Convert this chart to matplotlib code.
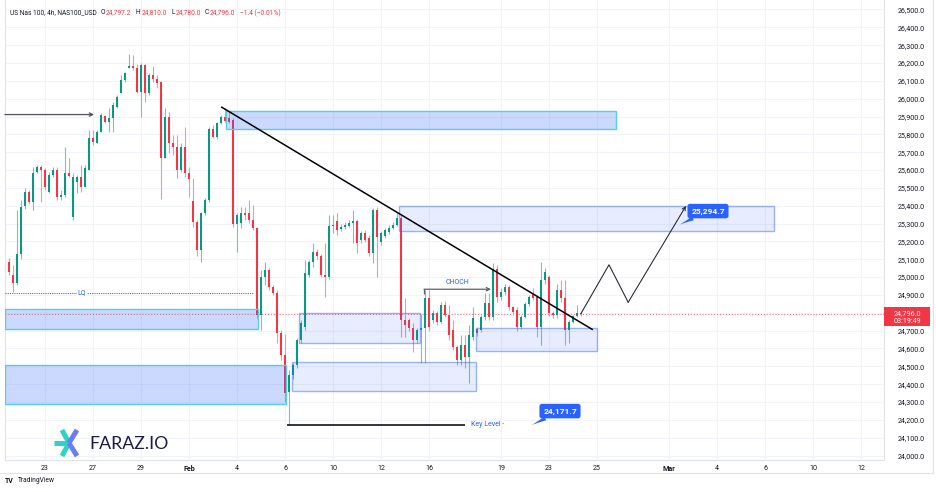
import numpy as np
import pandas as pd
import matplotlib
matplotlib.use('Agg')
import matplotlib.pyplot as plt
import matplotlib.transforms as mtransforms
from matplotlib.patches import Rectangle
from matplotlib.lines import Line2D


# --- 4h candles, NAS100_USD ---
OPENS = [25084, 25011, 24966, 25129, 25400, 25478, 25421, 25590, 25618, 25601,
         25478, 25573, 25601, 25449, 25461, 25584, 25337, 25534, 25562, 25506,
         25601, 25781, 25753, 25815, 25904, 25871, 25893, 25955, 26034, 26107,
         26174, 26185, 26174, 26039, 26191, 26034, 26135, 26113, 26096, 25669,
         25899, 25753, 25730, 25601, 25730, 25584, 25427, 25309, 25152, 25360,
         25433, 25831, 25787, 25865, 25899, 25893, 25882, 25298, 25303, 25360,
         25360, 25320, 25275, 24787, 25000, 25039, 24944, 24910, 24685, 24562,
         24354, 24449, 24506, 24646, 24719, 25011, 25084, 25140, 25118, 25011,
         25000, 25286, 25315, 25270, 25281, 25286, 25303, 25315, 25208, 25247,
         25219, 25135, 25376, 25197, 25230, 25253, 25275, 25292, 25331, 24758,
         24758, 24713, 24646, 24702, 24713, 24882, 24758, 24798, 24747, 24843,
         24787, 24702, 24607, 24534, 24618, 24551, 24663, 24708, 24702, 24775,
         24854, 24775, 25045, 24888, 24916, 24944, 24831, 24815, 24719, 24775,
         24848, 24904, 24888, 24719, 24983, 25000, 24798, 24787, 24927, 24882,
         24702, 24747, 24781, 24797.2]
HIGHS = [25107, 25067, 25376, 25433, 25500, 25489, 25618, 25629, 25629, 25612,
         25590, 25618, 25618, 25489, 25730, 25669, 25584, 25573, 25629, 25629,
         25826, 25826, 25826, 25921, 25910, 25949, 25983, 26022, 26135, 26152,
         26253, 26247, 26196, 26202, 26196, 26146, 26185, 26135, 26100, 25949,
         25927, 25798, 25798, 25753, 25843, 25618, 25556, 25320, 25365, 25444,
         25843, 25854, 25871, 25910, 25949, 25927, 25893, 25360, 25393, 25393,
         25433, 25404, 25281, 25039, 25084, 25051, 24955, 24927, 24702, 24680,
         24478, 24520, 24660, 24758, 25096, 25096, 25191, 25160, 25129, 25191,
         25348, 25348, 25360, 25300, 25310, 25320, 25376, 25326, 25260, 25264,
         25236, 25388, 25393, 25260, 25275, 25290, 25310, 25360, 25348, 24882,
         24770, 24742, 24713, 24792, 24927, 24927, 24815, 24810, 24860, 24865,
         24843, 24758, 24618, 24674, 24674, 24730, 24831, 24720, 24790, 24910,
         24910, 25079, 25067, 24940, 24960, 24955, 24840, 24830, 24790, 24860,
         24900, 24938, 24900, 25084, 25050, 25010, 24810, 24960, 24983, 24983,
         24760, 24790, 24843, 24810]
LOWS = [25011, 24916, 24955, 25100, 25380, 25410, 25376, 25585, 25421, 25489,
        25472, 25562, 25433, 25433, 25449, 25562, 25320, 25472, 25478, 25506,
        25601, 25742, 25753, 25815, 25865, 25815, 25815, 25949, 26034, 26096,
        26174, 26163, 26034, 25899, 25983, 26022, 26096, 26062, 25438, 25669,
        25697, 25685, 25556, 25590, 25562, 25449, 25281, 25118, 25084, 25348,
        25421, 25781, 25775, 25860, 25871, 25865, 25281, 25140, 25275, 25320,
        25303, 25264, 24770, 24702, 24955, 24930, 24899, 24629, 24534, 24298,
        24171.7, 24430, 24490, 24630, 24702, 25000, 25056, 25100, 25000, 24888,
        24990, 25247, 25236, 25260, 25270, 25280, 25191, 25135, 25190, 25197,
        25120, 25079, 25000, 25180, 25220, 25240, 25270, 25285, 24663, 24663,
        24700, 24579, 24630, 24517, 24517, 24700, 24740, 24730, 24740, 24775,
        24646, 24590, 24506, 24506, 24489, 24404, 24646, 24670, 24690, 24760,
        24760, 24758, 24860, 24870, 24900, 24815, 24790, 24700, 24710, 24770,
        24840, 24870, 24663, 24618, 24960, 24780, 24770, 24770, 24860, 24618,
        24630, 24740, 24775, 24780]
CLOSES = [25028, 24966, 25129, 25393, 25478, 25421, 25584, 25618, 25601, 25506,
          25573, 25601, 25449, 25461, 25584, 25568, 25562, 25562, 25506, 25612,
          25781, 25758, 25815, 25910, 25871, 25893, 25966, 26011, 26107, 26146,
          26185, 26174, 26039, 26191, 26034, 26135, 26113, 26090, 25669, 25899,
          25753, 25730, 25601, 25730, 25584, 25551, 25309, 25152, 25360, 25433,
          25831, 25787, 25865, 25899, 25876, 25871, 25298, 25348, 25360, 25348,
          25320, 25275, 24787, 25000, 25039, 24944, 24910, 24685, 24562, 24348,
          24449, 24506, 24646, 24742, 25022, 25084, 25140, 25118, 25011, 25000,
          25286, 25292, 25264, 25281, 25292, 25303, 25315, 25191, 25247, 25208,
          25135, 25376, 25225, 25247, 25264, 25275, 25292, 25331, 24758, 24730,
          24713, 24646, 24702, 24713, 24882, 24719, 24798, 24747, 24843, 24787,
          24674, 24607, 24534, 24618, 24551, 24674, 24770, 24685, 24775, 24854,
          24775, 25045, 24888, 24916, 24944, 24831, 24803, 24719, 24775, 24848,
          24888, 24882, 24719, 24983, 25028, 24798, 24787, 24927, 24882, 24702,
          24747, 24781, 24798, 24796.0]

# calendar: trading days shown on the time axis, 6 four-hour bars per day
SESSION_START = '2026-01-21'
SESSION_END = '2026-03-13'
BARS_PER_DAY = 6
FIRST_CANDLE_BAR = 3
TICK_DATES = ['2026-01-23', '2026-01-27', '2026-01-29', '2026-02-02', '2026-02-04',
              '2026-02-06', '2026-02-10', '2026-02-12', '2026-02-16', '2026-02-19',
              '2026-02-23', '2026-02-25', '2026-03-02', '2026-03-04', '2026-03-06',
              '2026-03-10', '2026-03-12']
TICK_LABELS = ['23', '27', '29', 'Feb', '4', '6', '10', '12', '16', '19',
               '23', '25', 'Mar', '4', '6', '10', '12']
MONTH_LABELS = ['Feb', 'Mar']

PRICE_TICKS = list(range(24000, 26501, 100))
PRICE_RANGE = (23975, 26553)
BAR_RANGE = (2.0, 221.75)

# drawings (bar index / price)
STRONG_ZONES = [(57.25, 154.75, 25830, 25931),
                (2.0, 65.25, 24709, 24821),
                (2.0, 72.25, 24289, 24507)]
LIGHT_ZONES = [(100.5, 194.25, 25258, 25399),
               (75.5, 105.75, 24631, 24799),
               (73.75, 119.75, 24362, 24524),
               (119.75, 150.0, 24586, 24715)]
TRENDLINE = [(56.2, 25952), (148.8, 24707)]
LEFT_ARROW = [(2.0, 25911), (24.25, 25911)]
LQ_LEVEL = 24912
LQ_SPAN = (2.0, 64.0)
CHOCH_LEVEL = 24932
CHOCH_SPAN = (106.75, 123.5)
KEY_LEVEL = 24171.7
KEY_SPAN = (72.5, 117.0)
PROJECTION = [(146.0, 24796), (153.0, 25069), (157.8, 24859), (172.25, 25399)]
TARGET = 25294.7

LAST_PRICE = 24796.0
COUNTDOWN = '03:19:49'

GREEN = '#089981'
RED = '#f23645'
BLUE = '#2962ff'
TEXT = '#131722'
W, H = 936, 492


def fx(px):
    return px / W


def fy(py):
    return 1 - py / H


def draw_candles(ax):
    o = np.array(OPENS, dtype=float)
    h = np.array(HIGHS, dtype=float)
    l = np.array(LOWS, dtype=float)
    c = np.array(CLOSES, dtype=float)
    x = FIRST_CANDLE_BAR + np.arange(len(o))
    up = c >= o
    body_col = np.where(up, GREEN, RED)
    wick_col = np.where(up, '#74c7b8', '#f7959e')
    ax.vlines(x, l, h, colors=wick_col, lw=0.8, zorder=3)
    ax.bar(x, np.maximum(np.abs(c - o), 5), bottom=np.minimum(o, c), width=0.7,
           color=body_col, linewidth=0, zorder=4)


def draw_drawings(ax):
    for x0, x1, lo, hi in STRONG_ZONES:
        ax.add_patch(Rectangle((x0, lo), x1 - x0, hi - lo, facecolor=(0.16, 0.38, 1, 0.24),
                               edgecolor='#55cfe3', lw=1.0, zorder=5))
    for x0, x1, lo, hi in LIGHT_ZONES:
        ax.add_patch(Rectangle((x0, lo), x1 - x0, hi - lo, facecolor=(0.16, 0.38, 1, 0.11),
                               edgecolor=(0.16, 0.38, 1, 0.45), lw=1.0, zorder=5))

    (tx0, ty0), (tx1, ty1) = TRENDLINE
    ax.plot([tx0, tx1], [ty0, ty1], color='black', lw=1.1, zorder=6)

    ax.annotate('', xy=LEFT_ARROW[1], xytext=LEFT_ARROW[0],
                arrowprops=dict(arrowstyle='->', color='#50535e', lw=0.9,
                                shrinkA=0, shrinkB=0, mutation_scale=6), zorder=6)

    ax.hlines(LQ_LEVEL, *LQ_SPAN, colors='#6a6d78', lw=0.8, linestyles=(0, (1, 1)), zorder=6)
    ax.text(21.25, LQ_LEVEL, 'LQ', color=BLUE, fontsize=5, ha='center', va='center', zorder=7,
            bbox=dict(boxstyle='square,pad=0.15', fc='white', ec='none'))

    ax.annotate('', xy=(CHOCH_SPAN[1], CHOCH_LEVEL), xytext=(CHOCH_SPAN[0], CHOCH_LEVEL),
                arrowprops=dict(arrowstyle='->', color='#5d606b', lw=0.9,
                                shrinkA=0, shrinkB=0, mutation_scale=6), zorder=6)
    ax.vlines(CHOCH_SPAN[0], CHOCH_LEVEL - 25, CHOCH_LEVEL, colors='#5d606b', lw=0.9, zorder=6)
    ax.text(sum(CHOCH_SPAN) / 2, CHOCH_LEVEL + 35, 'CHOCH', color=BLUE, fontsize=5,
            ha='center', va='center', zorder=7)

    ax.hlines(KEY_LEVEL, *KEY_SPAN, colors='black', lw=1.1, zorder=6)
    ax.text(KEY_SPAN[1] + 1.5, KEY_LEVEL, 'Key Level -', color=BLUE, fontsize=5,
            ha='left', va='center', zorder=7)

    px_ = [p[0] for p in PROJECTION]
    py_ = [p[1] for p in PROJECTION]
    ax.plot(px_[:-1], py_[:-1], color='#2a2e39', lw=0.8, zorder=6)
    ax.annotate('', xy=PROJECTION[-1], xytext=PROJECTION[-2],
                arrowprops=dict(arrowstyle='->', color='#2a2e39', lw=0.8,
                                shrinkA=0, shrinkB=0, mutation_scale=6), zorder=6)

    callout = dict(fontsize=6, fontweight='bold', color='white', ha='center', va='center',
                   zorder=8, textcoords='data',
                   bbox=dict(boxstyle='round,pad=0.45,rounding_size=0.3', fc=BLUE, ec='none'),
                   arrowprops=dict(arrowstyle='wedge,tail_width=0.5,shrink_factor=0.4',
                                   fc=BLUE, ec='none', shrinkA=0, shrinkB=0))
    ax.annotate(f'{KEY_LEVEL:,.1f}', xy=(133.75, KEY_LEVEL), xytext=(140.75, 24249), **callout)
    ax.annotate(f'{TARGET:,.1f}', xy=(170.75, TARGET), xytext=(177.75, 25370), **callout)

    ax.axhline(LAST_PRICE, color=RED, lw=0.7, ls=(0, (1, 2)), alpha=0.8, zorder=2)


def main():
    plt.rcParams['font.family'] = ['Roboto', 'DejaVu Sans']

    bdays = pd.bdate_range(SESSION_START, SESSION_END)
    tick_pos = [bdays.get_loc(pd.Timestamp(d)) * BARS_PER_DAY for d in TICK_DATES]

    fig = plt.figure(figsize=(W / 100, H / 100), dpi=100)
    ax = fig.add_axes([fx(5), fy(460), fx(884) - fx(5), fy(0) - fy(460)])
    ax.set_xlim(*BAR_RANGE)
    ax.set_ylim(*PRICE_RANGE)

    ax.set_yticks(PRICE_TICKS)
    ax.set_yticklabels([f'{p:,.1f}' if p != 24800 else '' for p in PRICE_TICKS])
    ax.yaxis.tick_right()
    ax.set_xticks(tick_pos)
    ax.set_xticklabels(TICK_LABELS)
    for lab in ax.get_xticklabels():
        if lab.get_text() in MONTH_LABELS:
            lab.set_fontweight('bold')
    ax.tick_params(axis='y', length=0, pad=10, labelsize=5.1, labelcolor=TEXT)
    ax.tick_params(axis='x', length=0, pad=3.5, labelsize=5.1, labelcolor=TEXT)
    ax.grid(True, color='#f0f3fa', lw=0.8, zorder=0)
    ax.set_axisbelow(True)
    ax.spines['top'].set_visible(False)
    for side in ['left', 'right', 'bottom']:
        ax.spines[side].set_color('#e0e3eb')
        ax.spines[side].set_linewidth(0.8)

    draw_candles(ax)
    draw_drawings(ax)

    # last price tag on the price scale
    trans = mtransforms.blended_transform_factory(ax.transAxes, ax.transData)
    ax.add_patch(Rectangle((1.0, LAST_PRICE - 72), 46 / 879, 108, transform=trans,
                           facecolor=RED, edgecolor='none', clip_on=False, zorder=9))
    ax.text(1 + 23 / 879, LAST_PRICE, f'{LAST_PRICE:,.1f}', transform=trans, color='white',
            fontsize=5.2, ha='center', va='center', clip_on=False, zorder=10)
    ax.text(1 + 23 / 879, LAST_PRICE - 42, COUNTDOWN, transform=trans, color='white',
            fontsize=5.2, ha='center', va='center', clip_on=False, zorder=10)

    # frame lines
    fig.add_artist(Line2D([fx(0), fx(933)], [fy(473), fy(473)], color='#e0e3eb', lw=0.8))
    fig.add_artist(Line2D([fx(933), fx(933)], [fy(0), fy(473)], color='#e0e3eb', lw=0.8))

    # legend line
    fig.text(fx(10), fy(13), 'US Nas 100, 4h, NAS100_USD', fontsize=4.8, color=TEXT, va='center')
    parts = [(100.5, 'O', TEXT), (106, f'{OPENS[-1]:,.1f}', RED),
             (136, 'H', TEXT), (141.5, f'{HIGHS[-1]:,.1f}', RED),
             (171, 'L', TEXT), (175.5, f'{LOWS[-1]:,.1f}', RED),
             (204.5, 'C', TEXT), (209.5, f'{CLOSES[-1]:,.1f}', RED),
             (240, '\u22121.4 (\u22120.01%)', RED)]
    for px, s, col in parts:
        fig.text(fx(px), fy(13), s, fontsize=4.8, color=col, va='center')

    # FARAZ.IO logo
    cx, cy = 69, 443
    teal, violet = '#2fd3c3', '#6c7cf4'
    arms = [((-15, 0), teal), ((-7, -13), teal), ((-7, 13), teal),
            ((8, -13), violet), ((8, 13), violet)]
    for (dx, dy), col in arms:
        fig.add_artist(Line2D([fx(cx), fx(cx + dx)], [fy(cy), fy(cy + dy)], color=col,
                              lw=3.6, solid_capstyle='butt'))
    fig.text(fx(89), fy(444), 'FARAZ.IO', fontsize=12.8, color='#1e1b4b', va='center',
             family=['Lato', 'DejaVu Sans'])

    # TradingView mark
    fig.text(fx(5), fy(481), 'TV', fontsize=5, fontweight='bold', color=TEXT, va='center')
    fig.text(fx(18), fy(481), 'TradingView', fontsize=4.8, color=TEXT, va='center')

    fig.savefig('out.png', dpi=100, facecolor='white')
    plt.close(fig)


if __name__ == '__main__':
    main()
